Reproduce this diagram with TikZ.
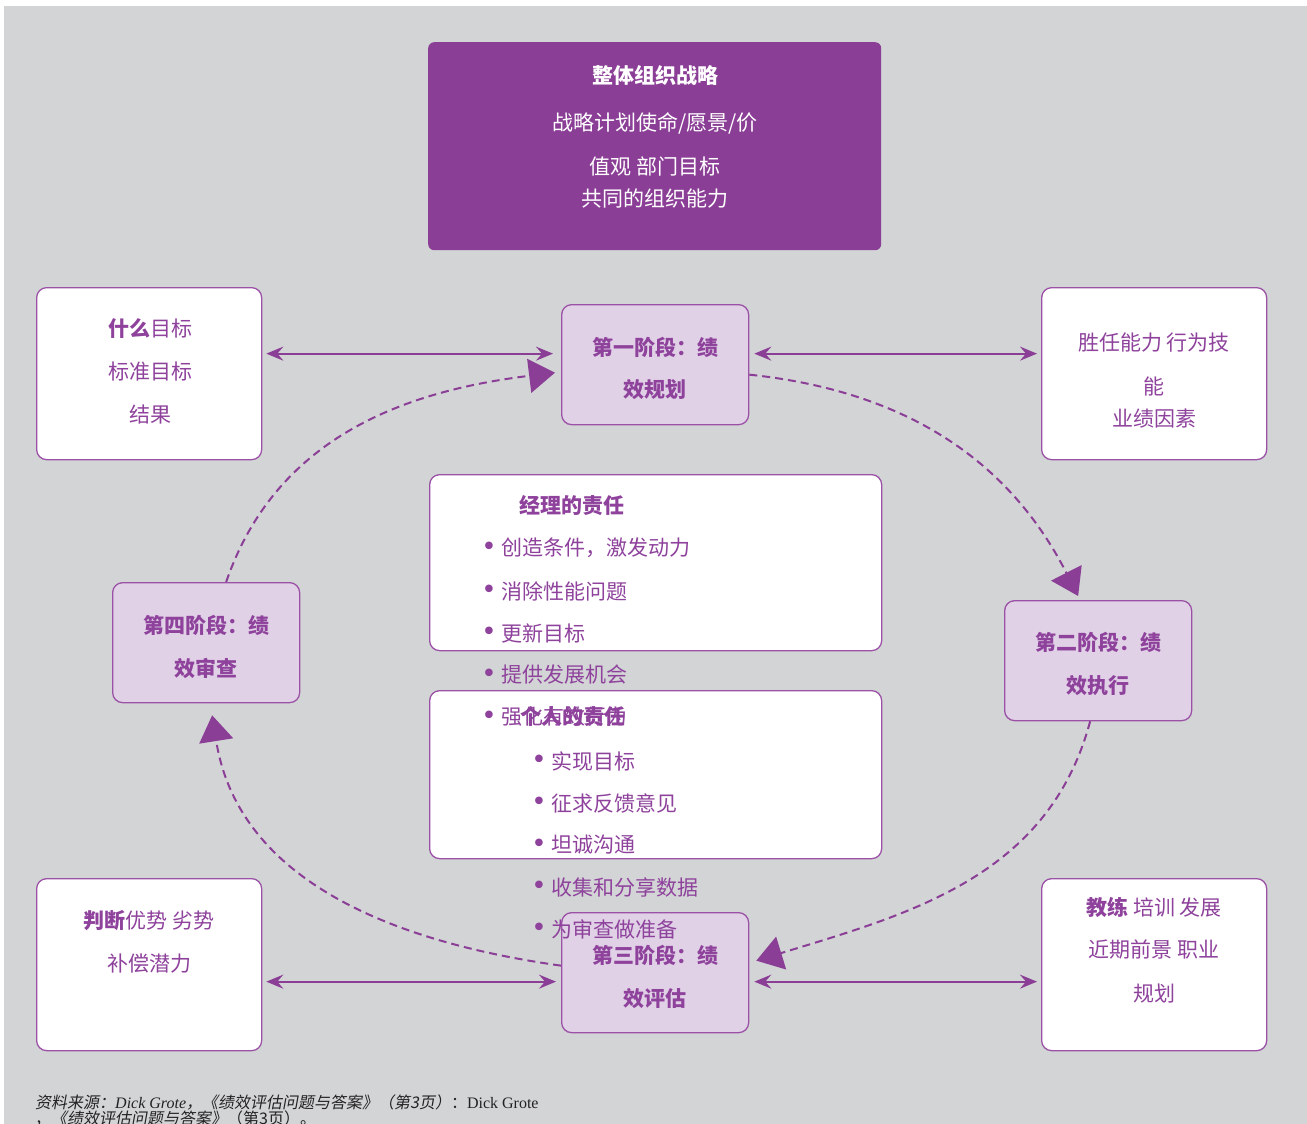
\documentclass[tikz,border=0pt]{standalone}
\usepackage{fontspec}
\setmainfont{Noto Sans CJK SC}
\newfontfamily\cjkslant{Noto Sans CJK SC}[FakeSlant=0.18]
\newfontfamily\latinserif{Liberation Serif}
\newfontfamily\bulletfont{DejaVu Sans}
\usetikzlibrary{arrows.meta}

\definecolor{bggrey}{RGB}{211,212,214}
\definecolor{purp}{RGB}{139,62,150}
\definecolor{edgepurp}{RGB}{155,82,166}
\definecolor{txtpurp}{RGB}{142,66,156}
\definecolor{phasefill}{RGB}{224,209,230}
\definecolor{captxt}{RGB}{34,34,34}

\tikzset{
  whitebox/.style={draw=edgepurp, line width=1.3pt, fill=white, rounded corners=10pt, anchor=north west, inner sep=0pt},
  phasebox/.style={draw=edgepurp, line width=1.3pt, fill=phasefill, rounded corners=10pt, anchor=north west, inner sep=0pt},
  stratbox/.style={fill=purp, rounded corners=6pt, anchor=north west, inner sep=0pt},
  wtxt/.style={text=white, font=\fontsize{21}{24}\selectfont, inner sep=0pt},
  ptxt/.style={text=txtpurp, font=\fontsize{21}{24}\selectfont, inner sep=0pt},
  phtxt/.style={text=txtpurp, font=\fontsize{21}{24}\selectfont\bfseries, inner sep=0pt},
  bul/.style={text=txtpurp, font=\bulletfont\fontsize{26}{28}\selectfont, inner sep=0pt},
  link/.style={draw=purp, line width=2pt, {Stealth[length=17pt,width=14pt,inset=6pt]}-{Stealth[length=17pt,width=14pt,inset=6pt]}},
  cycle/.style={draw=purp, line width=2pt, dash pattern=on 8pt off 5pt, -{Triangle[length=26pt,width=34pt]}},
}

\begin{document}
\begin{tikzpicture}[x=1pt,y=-1pt]
\useasboundingbox (0,0) rectangle (1307,1124);
\fill[white] (0,0) rectangle (1307,1124);
\fill[bggrey] (4,6) rectangle (1307,1124);

% overall strategy panel
\node[stratbox, minimum width=453pt, minimum height=208pt] (strat) at (428,42) {};

% corner boxes
\node[whitebox, minimum width=225pt, minimum height=172pt] (tl) at (36,287) {};
\node[whitebox, minimum width=225pt, minimum height=172pt] (tr) at (1041,287) {};
\node[whitebox, minimum width=225pt, minimum height=172pt] (bl) at (36,878) {};
\node[whitebox, minimum width=225pt, minimum height=172pt] (br) at (1041,878) {};

% responsibility boxes
\node[whitebox, minimum width=452pt, minimum height=176pt] (mgr) at (429,474) {};
\node[whitebox, minimum width=452pt, minimum height=168pt] (ind) at (429,690) {};

% phase boxes
\node[phasebox, minimum width=187pt, minimum height=120pt] (p1) at (561,304) {};
\node[phasebox, minimum width=187pt, minimum height=120pt] (p2) at (1004,600) {};
\node[phasebox, minimum width=187pt, minimum height=120pt] (p3) at (561,912) {};
\node[phasebox, minimum width=187pt, minimum height=120pt] (p4) at (112,582) {};

% two-way links between phases and corner boxes
\draw[link] ([shift={(4,-20)}]tl.east) -- ([shift={(-8,-11)}]p1.west);
\draw[link] ([shift={(5,-11)}]p1.east) -- ([shift={(-4,-20)}]tr.west);
\draw[link] ([shift={(4,17)}]bl.east) -- ([shift={(-5,9)}]p3.west);
\draw[link] ([shift={(5,9)}]p3.east) -- ([shift={(-4,17)}]br.west);

% the review cycle
\draw[cycle] ([shift={(0,10)}]p1.east) to[out=-6,in=117] ([shift={(-20,-4)}]p2.north);
\draw[cycle] ([shift={(-8,0)}]p2.south) to[out=-105,in=17] ([shift={(7,-12)}]p3.east);
\draw[cycle] ([shift={(0,-7)}]p3.west) to[out=172,in=-81] ([shift={(6,12)}]p4.south);
\draw[cycle] ([shift={(20,0)}]p4.north) to[out=71,in=-173] ([shift={(-6,8)}]p1.west);

% strategy text
\node[wtxt, font=\fontsize{21}{24}\selectfont\bfseries] (s1) at (655,75) {整体组织战略};
\node[wtxt] (s2) at (655,123) {战略计划使命/愿景/价};
\node[wtxt] (s3) at (655,166) {值观 部门目标};
\node[wtxt] (s4) at (655,199) {共同的组织能力};

% corner box text
\node[ptxt] (tl1) at (150,329) {\textbf{什么}目标};
\node[ptxt] (tl2) at (150,372) {标准目标};
\node[ptxt] (tl3) at (150,415) {结果};

\node[ptxt] (tr1) at (1154,343) {胜任能力 行为技};
\node[ptxt] (tr2) at (1154,386) {能};
\node[ptxt] (tr3) at (1154,419) {业绩因素};

\node[ptxt] (bl1) at (149,921) {\textbf{判断}优势 劣势};
\node[ptxt] (bl2) at (149,964) {补偿潜力};

\node[ptxt] (br1) at (1154,907) {\textbf{教练} 培训 发展};
\node[ptxt] (br2) at (1154,950) {近期前景 职业};
\node[ptxt] (br3) at (1154,994) {规划};

% phase text
\node[phtxt] (p1a) at (655,347) {第一阶段：绩};
\node[phtxt] (p1b) at (655,390) {效规划};
\node[phtxt] (p2a) at (1098,642) {第二阶段：绩};
\node[phtxt] (p2b) at (1098,686) {效执行};
\node[phtxt] (p3a) at (655,955) {第三阶段：绩};
\node[phtxt] (p3b) at (655,999) {效评估};
\node[phtxt] (p4a) at (206,625) {第四阶段：绩};
\node[phtxt] (p4b) at (206,668) {效审查};

% manager's responsibilities
\node[phtxt, anchor=west] (mh) at (519,506) {经理的责任};
\foreach \y/\t [count=\i] in {548/创造条件，激发动力, 591/消除性能问题, 633/更新目标, 675/提供发展机会, 717/强化有效行为}{
  \node[bul] (mb\i) at (489,\y+1) {•};
  \node[ptxt, anchor=west] (mt\i) at (501,\y) {\t};
}

% individual's responsibilities
\node[phtxt, anchor=west] (ih) at (520,717) {个人的责任};
\foreach \y/\t [count=\i] in {761/实现目标, 803/征求反馈意见, 845/坦诚沟通, 887/收集和分享数据, 929/为审查做准备}{
  \node[bul] (ib\i) at (539,\y+1) {•};
  \node[ptxt, anchor=west] (it\i) at (551,\y) {\t};
}

% source note
\node[anchor=base west, inner sep=0pt, text=captxt, font=\fontsize{16}{18}\selectfont] (src1) at (35,1108)
  {{\cjkslant 资料来源：}{\latinserif\itshape Dick Grote}{\cjkslant ，《绩效评估问题与答案》（第3页）}：{\latinserif Dick Grote}};
\node[anchor=base west, inner sep=0pt, text=captxt, font=\fontsize{16}{18}\selectfont] (src2) at (35,1124)
  {，{\cjkslant 《绩效评估问题与答案》}（第3页）。};
\end{tikzpicture}
\end{document}
